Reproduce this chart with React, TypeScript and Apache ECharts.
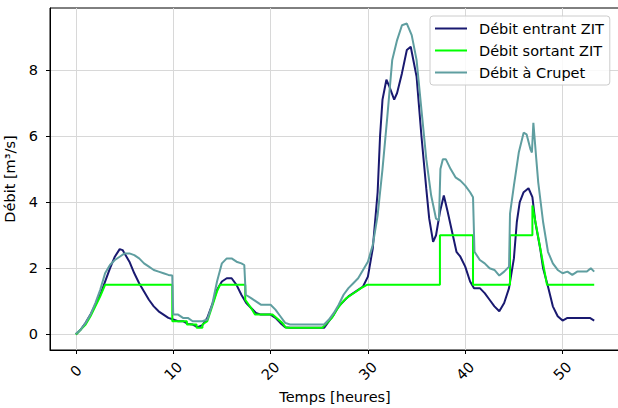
import React, { useEffect, useRef } from "react";
import * as echarts from "echarts";

// Débit entrant ZIT
const entrantT = [0, 0.5, 1, 1.5, 2, 2.5, 3, 3.5, 4, 4.5, 4.8, 5, 5.5, 6, 6.5, 7, 7.5, 8, 8.5, 9, 9.5, 10, 10.5, 11, 11.5, 12, 12.5, 13, 13.5, 14, 14.5, 15, 15.5, 16, 16.5, 17, 17.5, 18, 18.5, 19, 19.5, 20, 20.5, 21, 21.5, 22, 25.5, 26, 26.5, 27, 27.5, 28, 28.5, 29, 29.5, 30, 30.5, 31, 31.25, 31.5, 31.9, 32.2, 32.7, 33, 33.5, 34, 34.4, 35, 35.5, 36, 36.3, 36.7, 37, 37.4, 37.8, 38.2, 38.8, 39.1, 39.5, 40, 40.5, 40.9, 41.5, 42, 42.5, 43, 43.5, 44, 44.5, 45, 45.3, 45.6, 46, 46.5, 46.9, 47.2, 47.7, 48, 48.5, 49, 49.5, 50, 50.5, 51, 52, 52.8, 53.25];
const entrantV = [0, 0.15, 0.35, 0.6, 0.9, 1.2, 1.6, 2.0, 2.35, 2.58, 2.55, 2.45, 2.2, 1.85, 1.55, 1.3, 1.05, 0.85, 0.7, 0.6, 0.5, 0.45, 0.4, 0.4, 0.32, 0.3, 0.22, 0.28, 0.5, 0.9, 1.35, 1.6, 1.7, 1.7, 1.5, 1.2, 0.95, 0.8, 0.65, 0.6, 0.6, 0.6, 0.5, 0.35, 0.22, 0.2, 0.2, 0.4, 0.6, 0.85, 1.0, 1.15, 1.25, 1.35, 1.45, 1.75, 2.6, 4.3, 6.0, 7.1, 7.7, 7.5, 7.1, 7.3, 7.9, 8.6, 8.7, 7.8, 6.0, 4.4, 3.5, 2.8, 3.0, 3.7, 4.2, 3.7, 2.9, 2.5, 2.35, 2.05, 1.6, 1.4, 1.4, 1.25, 1.05, 0.85, 0.7, 0.95, 1.4, 2.3, 3.4, 4.0, 4.3, 4.42, 4.15, 3.4, 2.6, 2.0, 1.45, 0.85, 0.55, 0.42, 0.5, 0.5, 0.5, 0.5, 0.42];

// Débit sortant ZIT
const sortantT = [0, 0.5, 1, 1.5, 2, 2.5, 3, 9.9, 9.9, 11.4, 11.4, 12.4, 12.4, 13, 13, 13.5, 14, 14.5, 14.8, 17.4, 17.4, 18, 18.4, 20.2, 20.8, 21.2, 21.6, 25.3, 25.8, 26.3, 26.8, 27.3, 27.8, 28.3, 28.8, 29.3, 29.9, 37.4, 37.4, 40.8, 40.8, 44.6, 44.6, 46.9, 46.9, 48.4, 53.25];
const sortantV = [0, 0.15, 0.3, 0.55, 0.85, 1.15, 1.5, 1.5, 0.4, 0.4, 0.3, 0.3, 0.2, 0.2, 0.3, 0.4, 0.85, 1.3, 1.5, 1.5, 1.05, 0.8, 0.6, 0.6, 0.45, 0.35, 0.2, 0.2, 0.35, 0.5, 0.75, 0.95, 1.1, 1.2, 1.3, 1.4, 1.5, 1.5, 3.0, 3.0, 1.5, 1.5, 3.0, 3.0, 3.9, 1.5, 1.5];

// Débit à Crupet
const crupetT = [0, 0.5, 1, 1.5, 2, 2.5, 3, 3.5, 4, 4.5, 5, 5.5, 6, 6.5, 7, 7.5, 8, 8.5, 9, 9.5, 9.9, 10, 10.5, 11, 11.5, 12, 12.5, 13, 13.5, 14, 14.5, 15, 15.5, 16, 16.5, 17, 17.3, 17.45, 18, 18.5, 19, 19.5, 20, 20.5, 21, 21.5, 22, 25.5, 26, 26.5, 27, 27.5, 28, 28.5, 29, 29.5, 30, 30.5, 31, 31.5, 32, 32.5, 33, 33.5, 34, 34.5, 35, 35.5, 36, 36.5, 37, 37.3, 37.45, 37.7, 38, 38.5, 39, 39.5, 40, 40.5, 40.8, 40.95, 41.5, 42, 42.5, 43, 43.5, 44, 44.5, 44.6, 45, 45.5, 46, 46.3, 46.7, 46.85, 47, 47.3, 47.5, 48, 48.5, 49, 49.5, 50, 50.5, 51, 51.5, 52, 52.5, 52.9, 53.25];
const crupetV = [0.02, 0.15, 0.35, 0.6, 0.95, 1.35, 1.85, 2.1, 2.25, 2.35, 2.45, 2.45, 2.4, 2.3, 2.15, 2.05, 1.95, 1.9, 1.85, 1.8, 1.78, 0.6, 0.6, 0.5, 0.5, 0.4, 0.4, 0.4, 0.45, 0.9, 1.6, 2.15, 2.3, 2.3, 2.2, 2.15, 2.1, 1.2, 1.1, 1.0, 0.9, 0.9, 0.9, 0.75, 0.55, 0.35, 0.3, 0.3, 0.45, 0.65, 0.9, 1.2, 1.4, 1.55, 1.7, 1.95, 2.2, 2.7, 3.6, 5.0, 6.6, 8.3, 8.9, 9.35, 9.4, 9.05, 8.3, 6.8, 5.3, 4.2, 3.5, 3.45, 5.0, 5.3, 5.3, 5.0, 4.75, 4.65, 4.5, 4.3, 4.15, 2.5, 2.25, 2.15, 2.0, 1.95, 1.78, 1.9, 2.05, 3.65, 4.5, 5.5, 6.1, 6.05, 5.6, 5.5, 6.4, 5.3, 4.6, 3.4, 2.5, 2.15, 1.95, 1.85, 1.9, 1.8, 1.9, 1.9, 1.9, 2.0, 1.9];

const xTicks = [0, 10, 20, 30, 40, 50];
const yTicks = [0, 2, 4, 6, 8];
const legendNames = ["Débit entrant ZIT", "Débit sortant ZIT", "Débit à Crupet"];

const FONT = "DejaVu Sans";
const FS = 14.5;
const LEGEND_ICON = "path://M0,0H32V2H0Z M39,0L39,2";

export default function App() {
  const ref = useRef<HTMLDivElement>(null);
  useEffect(() => {
    const chart = echarts.init(ref.current!, null, { renderer: "svg" });
    const pairs = (t: number[], v: number[]) => t.map((x, i) => [x, v[i]]);
    chart.setOption({
      animation: false,
      backgroundColor: "#ffffff",
      grid: {
        left: 50,
        top: 8,
        width: 570,
        height: 342,
        containLabel: false,
        outerBoundsMode: "none",
        show: true,
        borderColor: "#000",
        borderWidth: 1,
      },
      xAxis: {
        type: "value",
        min: -2.66,
        max: 55.9,
        name: "Temps [heures]",
        nameLocation: "middle",
        nameGap: 38,
        nameTextStyle: { fontFamily: FONT, fontSize: FS, color: "#000" },
        axisLine: { show: true, onZero: false, lineStyle: { color: "#000", width: 1 } },
        axisTick: { show: true, length: 4, customValues: xTicks, lineStyle: { color: "#000" } },
        axisLabel: {
          customValues: xTicks,
          rotate: 45,
          align: "center",
          verticalAlign: "middle",
          margin: 21,
          fontFamily: FONT,
          fontSize: FS,
          color: "#000",
        },
        splitLine: { show: true, lineStyle: { color: "#d8d8d8", width: 1 } },
      },
      yAxis: {
        type: "value",
        min: -0.47,
        max: 9.87,
        name: "Débit [m³/s]",
        nameLocation: "middle",
        nameGap: 27,
        nameTextStyle: { fontFamily: FONT, fontSize: FS, color: "#000" },
        axisLine: { show: true, onZero: false, lineStyle: { color: "#000", width: 1 } },
        axisTick: { show: true, length: 4, customValues: yTicks, lineStyle: { color: "#000" } },
        axisLabel: { customValues: yTicks, margin: 12, fontFamily: FONT, fontSize: FS, color: "#000" },
        splitLine: { show: true, lineStyle: { color: "#d8d8d8", width: 1 } },
      },
      legend: {
        orient: "vertical",
        left: 430,
        top: 16,
        icon: LEGEND_ICON,
        symbolKeepAspect: false,
        itemWidth: 39,
        itemHeight: 2,
        itemGap: 7,
        padding: [5, 6, 5, 5],
        backgroundColor: "rgba(255,255,255,0.85)",
        borderColor: "#cccccc",
        borderWidth: 1,
        borderRadius: 3,
        textStyle: { fontFamily: FONT, fontSize: FS, color: "#000", lineHeight: 15 },
        data: legendNames,
      },
      series: [
        {
          name: legendNames[0],
          type: "line",
          symbol: "none",
          data: pairs(entrantT, entrantV),
          lineStyle: { color: "#191970", width: 2 },
          itemStyle: { color: "#191970" },
        },
        {
          name: legendNames[1],
          type: "line",
          symbol: "none",
          data: pairs(sortantT, sortantV),
          lineStyle: { color: "#00ff00", width: 2 },
          itemStyle: { color: "#00ff00" },
        },
        {
          name: legendNames[2],
          type: "line",
          symbol: "none",
          data: pairs(crupetT, crupetV),
          lineStyle: { color: "#5f9ea0", width: 2 },
          itemStyle: { color: "#5f9ea0" },
        },
      ],
    });
    return () => chart.dispose();
  }, []);
  return <div ref={ref} style={{ width: 618, height: 408, position: "absolute", left: 0, top: 0 }} />;
}
